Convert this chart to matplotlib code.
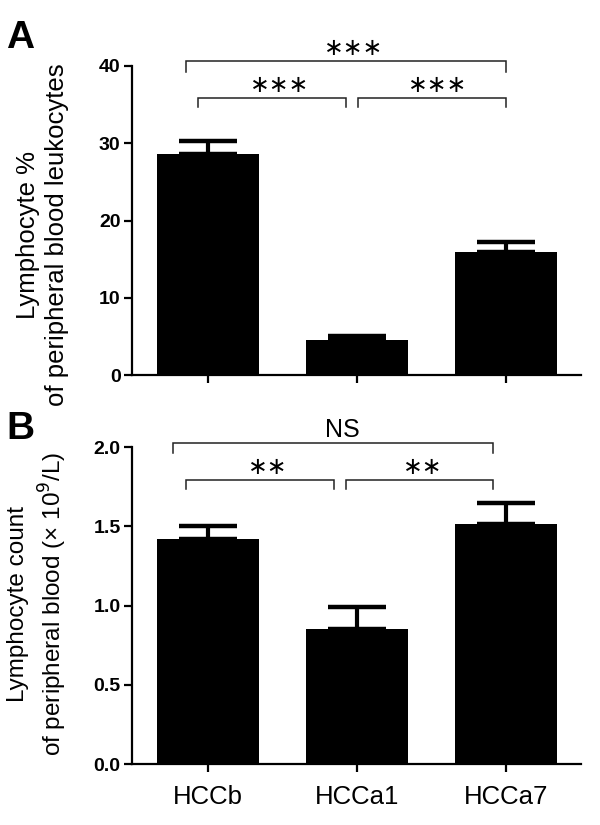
import matplotlib
matplotlib.use("Agg")
import matplotlib.pyplot as plt

groups = ["HCCb", "HCCa1", "HCCa7"]
pct_vals = [28.6, 4.5, 16.0]
pct_err = [1.7, 0.6, 1.3]
cnt_vals = [1.42, 0.855, 1.515]
cnt_err = [0.08, 0.135, 0.13]
pct_ticks = [0, 10, 20, 30, 40]
cnt_ticks = [0.0, 0.5, 1.0, 1.5, 2.0]

FONT = "Liberation Sans"
fig = plt.figure(figsize=(6, 8.25), dpi=100)
axA = fig.add_axes([0.2195, 0.5451, 0.748, 0.3749])
axB = fig.add_axes([0.2195, 0.0739, 0.748, 0.3842])

x = list(range(len(groups)))

def style(ax, ticks, fmt, ymax):
    ax.set_xlim(-0.509, 2.5)
    ax.set_ylim(0, ymax)
    ax.set_yticks(ticks)
    ax.set_yticklabels([fmt.format(t) for t in ticks], family=FONT,
                       fontweight="bold", fontsize=14)
    ax.set_xticks(x)
    for s in ["top", "right"]:
        ax.spines[s].set_visible(False)
    for s in ["left", "bottom"]:
        ax.spines[s].set_linewidth(1.6)
    ax.tick_params(axis="y", length=6, width=1.6, pad=2)
    ax.tick_params(axis="x", length=6, width=1.6, pad=9)

def bracket(ax, x0, x1, y, drop, lw=1.1):
    ax.plot([x0, x0, x1, x1], [y - drop, y, y, y - drop], color="#222222",
            lw=lw, clip_on=False, solid_joinstyle="miter")

err_kw = dict(fmt="none", ecolor="black", elinewidth=3.0, capsize=21, capthick=3.2)
star_kw = dict(ha="center", va="center", fontsize=17, family="DejaVu Sans")

# Panel A
axA.bar(x, pct_vals, width=0.684, color="black")
axA.errorbar(x, pct_vals, yerr=[[0] * 3, pct_err], **err_kw)
style(axA, pct_ticks, "{:d}", 40)
axA.set_xticklabels([])
axA.set_ylabel("Lymphocyte %\nof peripheral blood leukocytes", fontsize=18.5,
               family=FONT, linespacing=1.25)
axA.yaxis.set_label_coords(-0.14, 0.454)
bracket(axA, -0.147, 2.0, 40.7, 1.45)
bracket(axA, -0.067, 0.927, 35.9, 1.2)
bracket(axA, 1.007, 2.0, 35.9, 1.2)
axA.text(0.98, 42.3, "\u2217\u2217\u2217", **star_kw)
axA.text(0.484, 37.5, "\u2217\u2217\u2217", **star_kw)
axA.text(1.545, 37.5, "\u2217\u2217\u2217", **star_kw)
fig.text(20 / 600, 1 - 48 / 825, "A", fontsize=28, fontweight="bold", family=FONT,
         ha="center", va="baseline")

# Panel B
axB.bar(x, cnt_vals, width=0.684, color="black")
axB.errorbar(x, cnt_vals, yerr=[[0] * 3, cnt_err], **err_kw)
style(axB, cnt_ticks, "{:.1f}", 2.0)
axB.set_xticklabels(groups, family=FONT, fontsize=18.5)
axB.set_ylabel("Lymphocyte count\nof peripheral blood (\u00d7 10$^9$/L)", fontsize=17.5,
               family=FONT, linespacing=1.3)
axB.yaxis.set_label_coords(-0.14, 0.505)
bracket(axB, -0.233, 1.914, 2.027, 0.067)
bracket(axB, -0.145, 0.847, 1.79, 0.055)
bracket(axB, 0.927, 1.914, 1.79, 0.055)
axB.text(0.906, 2.105, "NS", ha="center", va="center", fontsize=18, family=FONT)
axB.text(0.40, 1.875, "\u2217\u2217", **star_kw)
axB.text(1.445, 1.875, "\u2217\u2217", **star_kw)
fig.text(20 / 600, 1 - 439 / 825, "B", fontsize=28, fontweight="bold", family=FONT,
         ha="center", va="baseline")

fig.savefig("out.png", dpi=100)
